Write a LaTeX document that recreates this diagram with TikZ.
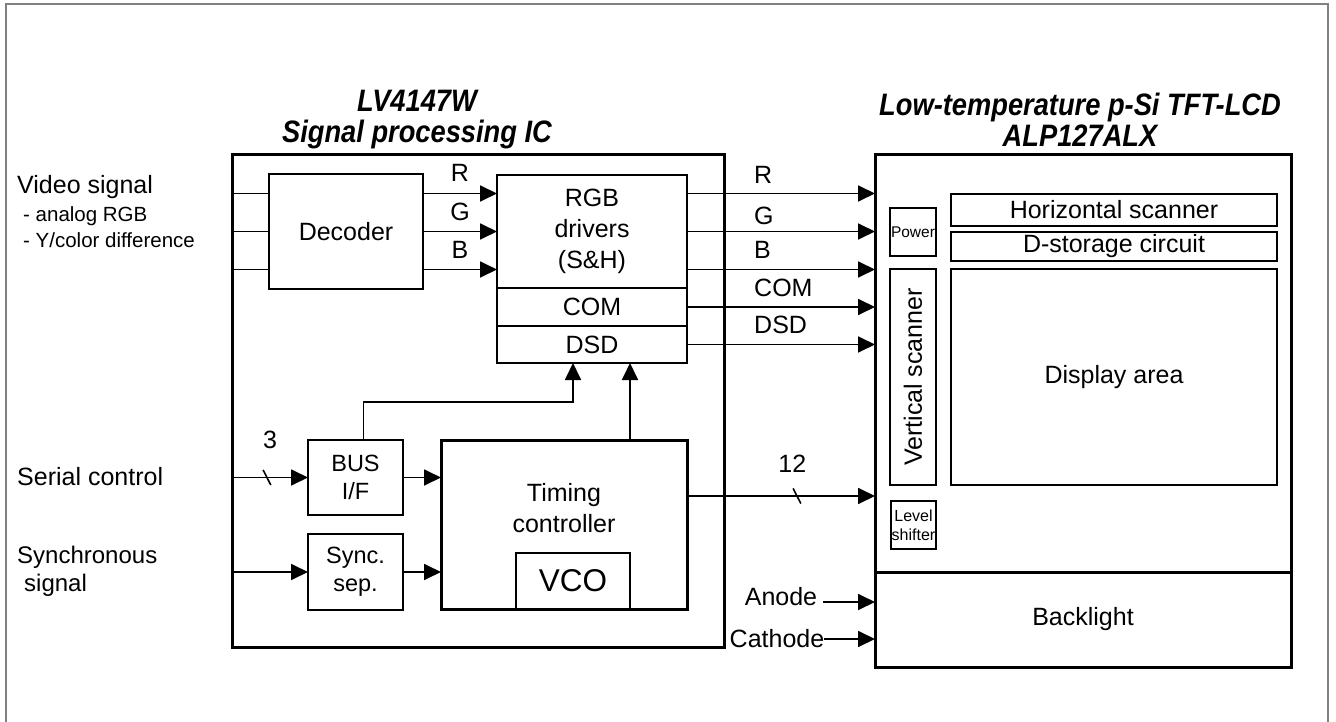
\documentclass[tikz,border=0pt]{standalone}
\usepackage{fontspec}
\setmainfont{Liberation Sans}
\usetikzlibrary{arrows.meta,positioning}

\begin{document}
\begin{tikzpicture}[
        x = 1pt, y = -1pt,
        block/.style = {draw=black, line width=1.8pt, inner sep=0pt, outer sep=0pt,
                        align=center, font=\fontsize{25}{31}\selectfont},
        chip/.style = {block, line width=3pt},
        lbl/.style = {inner sep=0pt, font=\fontsize{25}{31}\selectfont},
        sublbl/.style = {inner sep=0pt, font=\fontsize{20.5}{24}\selectfont},
        tinylbl/.style = {block, font=\fontsize{16}{19}\selectfont},
        headline/.style = {inner sep=0pt, align=center, xscale=0.88,
                        font=\fontsize{31}{31}\selectfont\bfseries\itshape},
        wire/.style = {line width=1.8pt},
        sig/.style = {wire, -{Triangle[length=17pt, width=16pt]}},
        busmark/.style = {draw, line width=1.6pt, minimum width=0pt,
                        minimum height=17pt, inner sep=0pt, rotate=27}]

        \useasboundingbox (0,0) rectangle (1336,722);
        \draw[gray, line width=1.5pt] (6,722) -- (6,4) -- (1328,4) -- (1328,722);

        % TITLES
        \node[headline] (ic_title) at (417,120) {LV4147W\\Signal processing IC};
        \node[headline] (lcd_title) at (1080,120) {Low-temperature p-Si TFT-LCD\\ALP127ALX};

        % SIGNAL PROCESSING IC
        \node[chip, minimum width=492pt, minimum height=492pt] (ic) at (478,401) {};
        \node[block, minimum width=154pt, minimum height=115pt] (dec) at (346,231.5) {Decoder};
        \node[block, minimum width=190pt, minimum height=113pt] (rgb) at (592,231.5) {RGB\\drivers\\(S\&H)};
        \node[block, minimum width=190pt, minimum height=38pt, below=0pt of rgb] (com) {COM};
        \node[block, minimum width=190pt, minimum height=37pt, below=0pt of com] (dsd) {DSD};

        \node[block, minimum width=95pt, minimum height=75pt, font=\fontsize{23.5}{28}\selectfont] (bus) at (355.5,477.5) {BUS\\I/F};
        \node[block, minimum width=95pt, minimum height=76pt, font=\fontsize{23.5}{28}\selectfont, below=19pt of bus] (syncsep) {Sync.\\sep.};
        \node[chip, minimum width=246pt, minimum height=169pt] (timing) at (564,524.5) {};
        \node[lbl, align=center] (timing_txt) at (564,508.5) {Timing\\controller};
        \node[block, minimum width=114pt, minimum height=56pt, anchor=south, font=\fontsize{31.5}{36}\selectfont] (vco) at ([xshift=9pt]timing.south) {VCO};

        % TFT-LCD
        \node[chip, minimum width=416pt, minimum height=417pt] (panel) at (1083,363.5) {};
        \node[chip, minimum width=416pt, minimum height=95pt, below=0pt of panel] (backlight) {Backlight};
        \node[tinylbl, minimum width=46pt, minimum height=48pt, font=\fontsize{15.5}{18}\selectfont] (power) at (913,232) {Power};
        \node[block, minimum width=326pt, minimum height=32pt] (hscan) at (1114,210) {Horizontal scanner};
        \node[block, minimum width=326pt, minimum height=29pt, below=6pt of hscan] (dstore) {D-storage circuit};
        \node[block, minimum width=326pt, minimum height=216pt] (disp) at (1114,377) {Display area};
        \node[block, minimum width=216pt, minimum height=46pt, rotate=90] (vscan) at (913,377) {Vertical scanner};
        \node[tinylbl, minimum width=45pt, minimum height=48pt] (lvl) at (913.5,525) {Level\\shifter};

        % TEXTS
        \node[lbl, anchor=west] (video) at (17,187) {Video signal};
        \node[sublbl, anchor=west] (video_a) at (23,216) {- analog RGB};
        \node[sublbl, anchor=west] (video_b) at (23,240) {- Y/color difference};
        \node[lbl, anchor=west] (serial) at (17,477) {Serial control};
        \node[lbl, anchor=west, align=left, font=\fontsize{24}{28}\selectfont] (sync_txt) at (17,571) {Synchronous\\\hspace*{7pt}signal};

        \node[lbl] (in_r) at (460,173) {R};
        \node[lbl] (in_g) at (460,212) {G};
        \node[lbl] (in_b) at (460,250) {B};
        \node[lbl, anchor=west] (out_r) at (754,175) {R};
        \node[lbl, anchor=west] (out_g) at (754,216) {G};
        \node[lbl, anchor=west] (out_b) at (754,250) {B};
        \node[lbl, anchor=west] (out_com) at (754,288) {COM};
        \node[lbl, anchor=west] (out_dsd) at (754,325) {DSD};
        \node[lbl] (anode) at (781,597) {Anode};
        \node[lbl] (cathode) at (777,639) {Cathode};

        % helper points
        \coordinate (dec_r) at ([yshift=38pt]dec.west);
        \coordinate (dec_b) at ([yshift=-38pt]dec.west);
        \coordinate (rgb_r) at ([yshift=38pt]rgb.east);
        \coordinate (rgb_b) at ([yshift=-38pt]rgb.east);
        \coordinate (bus_top) at ([xshift=8pt]bus.north);
        \coordinate (bus_bend) at ([yshift=38pt]bus_top);
        \coordinate (tim_out) at ([yshift=28.5pt]timing.east);
        \coordinate (an_in) at (823,602);

        % ARROWS
        \draw[wire] (dec_r -| ic.west) -- (dec_r);
        \draw[wire] (dec.west -| ic.west) -- (dec.west);
        \draw[wire] (dec_b -| ic.west) -- (dec_b);
        \draw[sig] ([yshift=38pt]dec.east) -- ([yshift=38pt]rgb.west);
        \draw[sig] (dec.east) -- (rgb.west);
        \draw[sig] ([yshift=-38pt]dec.east) -- ([yshift=-38pt]rgb.west);

        \draw[sig] (rgb_r) -- (rgb_r -| panel.west);
        \draw[sig] (rgb.east) -- (rgb.east -| panel.west);
        \draw[sig] (rgb_b) -- (rgb_b -| panel.west);
        \draw[sig] (com.east) -- (com.east -| panel.west);
        \draw[sig] (dsd.east) -- (dsd.east -| panel.west);

        \draw[sig] (bus.west -| ic.west) -- node[pos=0.46, busmark] (mark3) {}
                node[pos=0.5, yshift=38pt, lbl] (lab3) {3} (bus.west);
        \draw[sig] (syncsep.west -| ic.west) -- (syncsep.west);
        \draw[sig] (bus.east) -- (bus.east -| timing.west);
        \draw[sig] (syncsep.east) -- (syncsep.east -| timing.west);
        \draw[sig] (bus_top) -- (bus_bend) -| ([xshift=-19pt]dsd.south);
        \draw[sig] ([xshift=66pt]timing.north) -- ([xshift=38pt]dsd.south);
        \draw[sig] (tim_out) -- node[pos=0.585, busmark] (mark12) {}
                node[pos=0.56, yshift=32pt, lbl] (lab12) {12} (tim_out -| panel.west);

        \draw[sig] (an_in) -- (an_in -| backlight.west);
        \draw[sig] (cathode.east) -- (cathode.east -| backlight.west);
        \end{tikzpicture}
\end{document}
